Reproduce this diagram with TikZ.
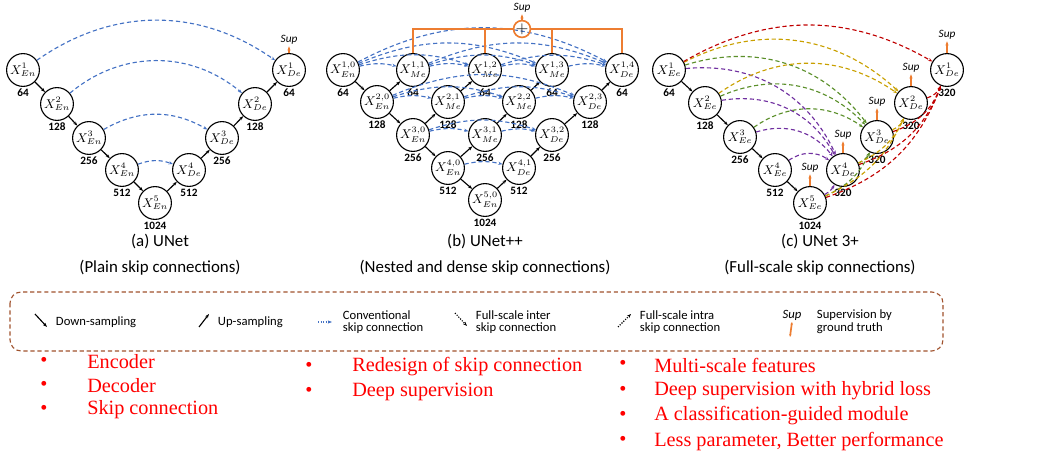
\documentclass[tikz,border=0pt]{standalone}
\usepackage{fontspec}
\setmainfont{Carlito}
\newfontfamily\tnr{Liberation Serif}
\usetikzlibrary{arrows.meta}
\definecolor{skipblue}{HTML}{4472C4}
\definecolor{supor}{HTML}{ED7D31}
\definecolor{interpu}{HTML}{7030A0}
\definecolor{intergr}{HTML}{5B8F2A}
\definecolor{interye}{HTML}{C9A000}
\definecolor{interre}{HTML}{C00000}
\definecolor{boxbr}{HTML}{A0522D}
\tikzset{
    unit/.style={draw, circle, thick, minimum size=0.82cm, inner sep=0pt, font=\small},
    num/.style={font=\bfseries\footnotesize, inner sep=1pt},
    samp/.style={-{Stealth[length=3pt]}, thick},
    conv/.style={-{Stealth[length=3pt]}, skipblue, densely dashed, thick},
    full/.style={-{Stealth[length=3pt]}, densely dashed, thick},
    supline/.style={supor, very thick},
    supnode/.style={font=\footnotesize\itshape, inner sep=1pt},
    caption/.style={font=\large},
    bullet/.style={text=red, font=\tnr\Large, anchor=west, inner sep=0pt},
}
\begin{document}
\begin{tikzpicture}[x=0.025cm, y=-0.025cm]
\useasboundingbox (0,0) rectangle (1048,466);

% (a) UNet
\node[unit, label={[num]below:64}] (a1) at (23,70) {$X^{1}_{En}$};
\node[unit, label={[num]below:128}] (a2) at (57,104) {$X^{2}_{En}$};
\node[unit, label={[num]below:256}] (a3) at (89,138) {$X^{3}_{En}$};
\node[unit, label={[num]below:512}] (a4) at (122,170) {$X^{4}_{En}$};
\node[unit, label={[num]below:1024}] (a5) at (155,203) {$X^{5}_{En}$};
\node[unit, label={[num]below:512}] (a6) at (189,170) {$X^{4}_{De}$};
\node[unit, label={[num]below:256}] (a7) at (222,138) {$X^{3}_{De}$};
\node[unit, label={[num]below:128}] (a8) at (255,104) {$X^{2}_{De}$};
\node[unit, label={[num]below:64}] (a9) at (289,70) {$X^{1}_{De}$};
\foreach \s/\e in {a1/a2,a2/a3,a3/a4,a4/a5}
    \draw[samp] (\s) -- (\e);
\foreach \s/\e in {a5/a6,a6/a7,a7/a8,a8/a9}
    \draw[samp] (\s) -- (\e);
\draw[conv] (a1) to[bend left=35] (a9);
\draw[conv] (a2) to[bend left=40] (a8);
\draw[conv] (a3) to[bend left=30] (a7);
\draw[conv] (a4) to[bend left=20] (a6);
\node[supnode] (asup) at (289,40) {Sup};
\draw[supline, -{Stealth[length=3pt]}] (a9.north) -- (asup.south);
\node[caption] (acap) at (160,241) {(a) UNet};
\node[caption] (adesc) at (160,268) {(Plain skip connections)};

% (b) UNet++
\node[unit, label={[num]below:64}] (b10) at (343,70) {$X^{1,0}_{En}$};
\node[unit, label={[num]below:64}] (b11) at (413,70) {$X^{1,1}_{Me}$};
\node[unit, label={[num]below:64}] (b12) at (485,70) {$X^{1,2}_{Me}$};
\node[unit, label={[num]below:64}] (b13) at (552,70) {$X^{1,3}_{Me}$};
\node[unit, label={[num]below:64}] (b14) at (622,70) {$X^{1,4}_{De}$};
\node[unit, label={[num]below:128}] (b20) at (377,102) {$X^{2,0}_{En}$};
\node[unit, label={[num]below:128}] (b21) at (448,102) {$X^{2,1}_{Me}$};
\node[unit, label={[num]below:128}] (b22) at (519,102) {$X^{2,2}_{Me}$};
\node[unit, label={[num]below:128}] (b23) at (590,102) {$X^{2,3}_{De}$};
\node[unit, label={[num]below:256}] (b30) at (413,135) {$X^{3,0}_{En}$};
\node[unit, label={[num]below:256}] (b31) at (485,135) {$X^{3,1}_{Me}$};
\node[unit, label={[num]below:256}] (b32) at (552,135) {$X^{3,2}_{De}$};
\node[unit, label={[num]below:512}] (b40) at (448,168) {$X^{4,0}_{En}$};
\node[unit, label={[num]below:512}] (b41) at (519,168) {$X^{4,1}_{De}$};
\node[unit, label={[num]below:1024}] (b50) at (485,200) {$X^{5,0}_{En}$};
\foreach \s/\e in {b10/b20,b20/b30,b30/b40,b40/b50}
    \draw[samp] (\s) -- (\e);
\foreach \s/\e in {b50/b41,b41/b32,b32/b23,b23/b14,b40/b31,b31/b22,b22/b13,b30/b21,b21/b12,b20/b11}
    \draw[samp] (\s) -- (\e);
\foreach \r/\n in {1/4,2/3,3/2,4/1}
    \foreach \j in {0,...,\n}
        \foreach \k in {0,...,\n} {
            \ifnum\k>\j
                \pgfmathtruncatemacro{\bnd}{8+5*(\k-\j)}
                \draw[conv] (b\r\j) to[bend left=\bnd] (b\r\k);
            \fi
        }
\node[circle, draw=supor, very thick, inner sep=0pt, minimum size=0.4cm] (plus) at (522,29) {\large$+$};
\node[supnode] (bsup) at (522,8) {Sup};
\draw[supline, -{Stealth[length=3pt]}] (plus.north) -- (bsup.south);
\draw[supline] (b11.north) |- (plus.west);
\draw[supline] (b14.north) |- (plus.east);
\draw[supline] (b12.north) -- (b12.north |- plus.west);
\draw[supline] (b13.north) -- (b13.north |- plus.east);
\node[caption] (bcap) at (485,241) {(b) UNet++};
\node[caption] (bdesc) at (485,268) {(Nested and dense skip connections)};

% (c) UNet 3+
\node[unit, label={[num]below:64}] (e1) at (669,70) {$X^{1}_{Ee}$};
\node[unit, label={[num]below:128}] (e2) at (705,103) {$X^{2}_{Ee}$};
\node[unit, label={[num]below:256}] (e3) at (740,137) {$X^{3}_{Ee}$};
\node[unit, label={[num]below:512}] (e4) at (775,170) {$X^{4}_{Ee}$};
\node[unit, label={[num]below:1024}] (e5) at (810,203) {$X^{5}_{Ee}$};
\node[unit, label={[num]below:320}] (d4) at (843,170) {$X^{4}_{De}$};
\node[unit, label={[num]below:320}] (d3) at (877,137) {$X^{3}_{De}$};
\node[unit, label={[num]below:320}] (d2) at (911,103) {$X^{2}_{De}$};
\node[unit, label={[num]below:320}] (d1) at (947,70) {$X^{1}_{De}$};
\foreach \s/\e in {e1/e2,e2/e3,e3/e4,e4/e5}
    \draw[samp] (\s) -- (\e);
% inter skip connections
\foreach \s in {e1,e2,e3,e4}
    \draw[full, interpu] (\s) to[bend left=35] (d4);
\foreach \s in {e1,e2,e3}
    \draw[full, intergr] (\s) to[bend left=35] (d3);
\foreach \s in {e1,e2}
    \draw[full, interye] (\s) to[bend left=35] (d2);
\draw[full, interre] (e1) to[bend left=30] (d1);
% intra skip connections
\draw[full, interpu] (e5) to[bend right=15] (d4);
\foreach \s in {e5,d4}
    \draw[full, intergr] (\s) to[bend right=20] (d3);
\foreach \s in {e5,d4,d3}
    \draw[full, interye] (\s) to[bend right=20] (d2);
\foreach \s in {e5,d4,d3,d2}
    \draw[full, interre] (\s) to[bend right=25] (d1);
\foreach \n in {e5,d4,d3,d2,d1} {
    \node[supnode] (sup-\n) at ([yshift=0.45cm]\n.north) {Sup};
    \draw[supline, -{Stealth[length=3pt]}] (\n.north) -- (sup-\n.south);
}
\node[caption] (ccap) at (820,241) {(c) UNet 3+};
\node[caption] (cdesc) at (820,268) {(Full-scale skip connections)};

% legend
\draw[boxbr, densely dashed, thick, rounded corners=8pt] (10,292) rectangle (943,351);
\begin{scope}[every node/.style={font=\small, anchor=west, align=left}]
\coordinate (l1a) at (35,314); \coordinate (l1b) at (47,327);
\draw[samp] (l1a) -- (l1b);
\node (l1) at (51,322) {Down-sampling};
\coordinate (l2a) at (199,327); \coordinate (l2b) at (209,314);
\draw[samp] (l2a) -- (l2b);
\node (l2) at (213,322) {Up-sampling};
\coordinate (l3a) at (318,322); \coordinate (l3b) at (332,322);
\draw[conv, densely dotted] (l3a) -- (l3b);
\node (l3) at (338,322) {Conventional\\[-2pt]skip connection};
\coordinate (l4a) at (455,313); \coordinate (l4b) at (467,326);
\draw[full, densely dotted] (l4a) -- (l4b);
\node (l4) at (471,322) {Full-scale inter\\[-2pt]skip connection};
\coordinate (l5a) at (618,327); \coordinate (l5b) at (631,314);
\draw[full, densely dotted] (l5a) -- (l5b);
\node (l5) at (635,322) {Full-scale intra\\[-2pt]skip connection};
\node[supnode, anchor=center, font=\small\itshape] (l6s) at (792,315) {Sup};
\coordinate (l6a) at (790,337);
\draw[supline, {Stealth[length=2pt]}-{Stealth[length=2pt]}] (l6a) -- (l6s.south);
\node (l6) at (812,322) {Supervision by\\[-2pt]ground truth};
\end{scope}

% bullets
\foreach \w [count=\i] in {Encoder, Decoder, Skip connection} {
    \node[bullet] (p1-\i) at (40,338+24*\i) {\textbullet};
    \node[bullet] (t1-\i) at (87,338+24*\i) {\w};
}
\foreach \w [count=\i] in {Redesign of skip connection, Deep supervision} {
    \node[bullet] (p2-\i) at (305,342+25*\i) {\textbullet};
    \node[bullet] (t2-\i) at (352,342+25*\i) {\w};
}
\foreach \w [count=\i] in {Multi-scale features, Deep supervision with hybrid loss, A classification-guided module, {Less parameter,  Better performance}} {
    \node[bullet] (p3-\i) at (619,340+25.3*\i) {\textbullet};
    \node[bullet] (t3-\i) at (654,340+25.3*\i) {\w};
}
\end{tikzpicture}
\end{document}
